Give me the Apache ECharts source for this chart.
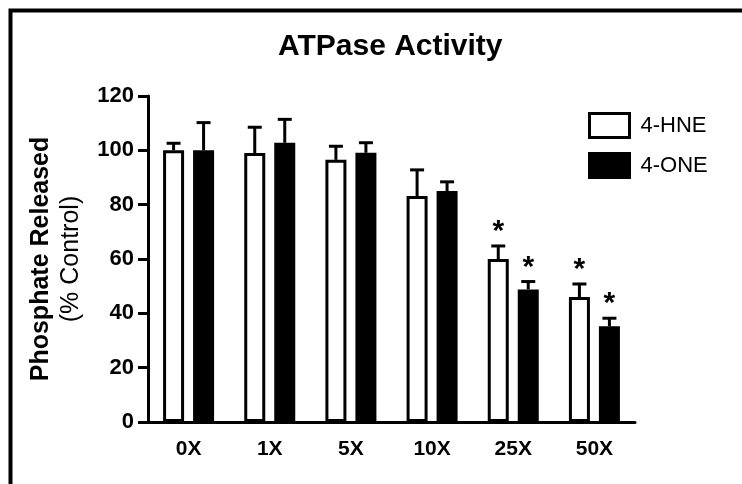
<!DOCTYPE html>
<html>
<head>
<meta charset="utf-8">
<script src="https://cdn.jsdelivr.net/npm/echarts@6/dist/echarts.min.js"></script>
<style>
  html, body { margin: 0; padding: 0; background: #fff; }
  #main { width: 742px; height: 484px; }
</style>
</head>
<body>
<div id="main"></div>
<script>
// data
var categories = ['0X', '1X', '5X', '10X', '25X', '50X'];
var hne = [100, 99, 96.5, 83.2, 60, 46];
var hneErr = [2.6, 9.5, 5, 9.6, 4.8, 4.8];
var hneSig = [0, 0, 0, 0, 1, 1];
var one = [100, 102.8, 99.1, 85, 48.8, 35.2];
var oneErr = [10.2, 8.6, 3.7, 3.4, 2.9, 3];
var oneSig = [0, 0, 0, 0, 1, 1];
var yTicks = [0, 20, 40, 60, 80, 100, 120];

var font = "'Liberation Sans', Arial, sans-serif";
var barW = 21;
var barGap = 9;

function errData(vals, errs, sig) {
    return vals.map(function (v, i) { return [i, v, errs[i], sig[i]]; });
}

// draws the upper error bar (+ star if significant) for one bar series
function errRender(side) {
    return function (params, api) {
        var i = api.value(0);
        var base = api.coord([i, api.value(1)]);
        var top = api.coord([i, api.value(1) + api.value(2)]);
        var x = base[0] + side * (barW + barGap) / 2;
        var kids = [
            { type: 'line', shape: { x1: x, y1: base[1], x2: x, y2: top[1] },
              style: { stroke: '#000', lineWidth: 3 } },
            { type: 'line', shape: { x1: x - 7, y1: top[1], x2: x + 7, y2: top[1] },
              style: { stroke: '#000', lineWidth: 3 } }
        ];
        if (api.value(3)) {
            kids.push({ type: 'text', x: x, y: top[1] - 14,
                style: { text: '*', fill: '#000', font: 'bold 30px ' + font,
                         align: 'center', verticalAlign: 'middle' } });
        }
        return { type: 'group', children: kids };
    };
}

var myChart = echarts.init(document.getElementById('main'));
var option = {
    backgroundColor: '#fff',
    animation: false,
    title: {
        text: 'ATPase Activity',
        left: 273,
        top: 27,
        textStyle: { fontFamily: font, fontSize: 30, fontWeight: 'bold', color: '#000' }
    },
    legend: {
        orient: 'vertical',
        left: 583,
        top: 107,
        itemWidth: 40,
        itemHeight: 24,
        itemGap: 13,
        icon: 'rect',
        data: [
            { name: '4-HNE', itemStyle: { color: '#fff', borderColor: '#000', borderWidth: 3 } },
            { name: '4-ONE', itemStyle: { color: '#000', borderColor: '#000', borderWidth: 3 } }
        ],
        textStyle: { fontFamily: font, fontSize: 22, color: '#000', padding: [0, 0, 0, 6] }
    },
    grid: { left: 148, right: 107, top: 96, bottom: 62 },
    xAxis: {
        type: 'category',
        data: categories,
        axisLine: { lineStyle: { color: '#000', width: 3 } },
        axisTick: { alignWithLabel: true, length: 11, lineStyle: { color: '#000', width: 3 } },
        axisLabel: { fontFamily: font, fontSize: 21, fontWeight: 'bold', color: '#000', margin: 17 }
    },
    yAxis: {
        type: 'value',
        min: yTicks[0],
        max: yTicks[yTicks.length - 1],
        interval: 20,
        name: '{b|Phosphate Released}\n{n|(% Control)}',
        nameLocation: 'middle',
        nameRotate: 90,
        nameGap: 62,
        nameTextStyle: {
            rich: {
                b: { fontFamily: font, fontSize: 25, fontWeight: 'bold', color: '#000', lineHeight: 30, align: 'center' },
                n: { fontFamily: font, fontSize: 25, color: '#000', lineHeight: 30, align: 'center' }
            }
        },
        axisLine: { show: true, lineStyle: { color: '#000', width: 3 } },
        axisTick: { show: true, length: 10, lineStyle: { color: '#000', width: 3 } },
        axisLabel: { fontFamily: font, fontSize: 22, fontWeight: 'bold', color: '#000', margin: 14 },
        splitLine: { show: false }
    },
    graphic: [
        { type: 'rect', shape: { x: 10.5, y: 10.5, width: 900, height: 700 },
          style: { fill: 'none', stroke: '#000', lineWidth: 4 }, silent: true }
    ],
    series: [
        {
            name: '4-HNE', type: 'bar', data: hne,
            barWidth: barW, barGap: (barGap / barW * 100) + '%',
            itemStyle: { color: '#fff', borderColor: '#000', borderWidth: 3 }
        },
        {
            name: '4-ONE', type: 'bar', data: one,
            barWidth: barW,
            itemStyle: { color: '#000', borderColor: '#000', borderWidth: 3 }
        },
        {
            type: 'custom', name: 'hneErr', data: errData(hne, hneErr, hneSig),
            renderItem: errRender(-1), encode: { x: 0, y: 1 }, z: 3
        },
        {
            type: 'custom', name: 'oneErr', data: errData(one, oneErr, oneSig),
            renderItem: errRender(1), encode: { x: 0, y: 1 }, z: 3
        }
    ]
};
myChart.setOption(option);
</script>
</body>
</html>
